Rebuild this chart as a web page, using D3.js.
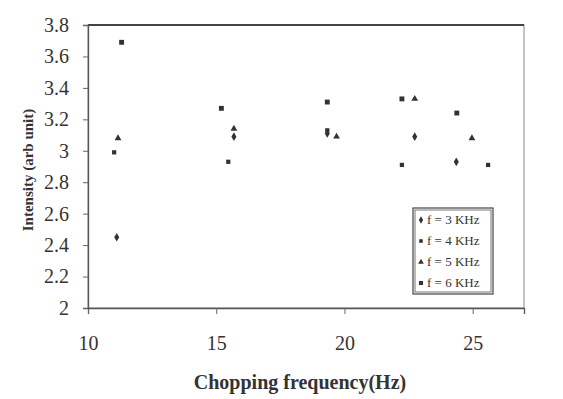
<!DOCTYPE html>
<html>
<head>
<meta charset="utf-8">
<script src="https://cdn.jsdelivr.net/npm/d3@7"></script>
<style>
  body { margin: 0; background: #fff; }
  text { font-family: "Liberation Serif", "DejaVu Serif", serif; fill: #333; }
</style>
</head>
<body>
<div id="chart"></div>
<script>
const seriesNames = ["f = 3 KHz", "f = 4 KHz", "f = 5 KHz", "f = 6 KHz"];
const xTicks = [10, 15, 20, 25];
const yTicks = [2, 2.2, 2.4, 2.6, 2.8, 3, 3.2, 3.4, 3.6, 3.8];

const x3k = [11.12, 15.69, 19.33, 22.74, 24.36];
const y3k = [2.45, 3.09, 3.11, 3.09, 2.93];
const x4k = [11.02, 15.47, 19.33, 22.24, 25.6];
const y4k = [2.99, 2.93, 3.13, 2.91, 2.91];
const x5k = [11.17, 15.69, 19.69, 22.74, 24.97];
const y5k = [3.08, 3.14, 3.09, 3.33, 3.08];
const x6k = [11.31, 15.2, 19.33, 22.24, 24.38];
const y6k = [3.69, 3.27, 3.31, 3.33, 3.24];

const series = [
  { name: seriesNames[0], xs: x3k, ys: y3k, shape: d3.symbolDiamond, size: 22 },
  { name: seriesNames[1], xs: x4k, ys: y4k, shape: d3.symbolSquare, size: 18 },
  { name: seriesNames[2], xs: x5k, ys: y5k, shape: d3.symbolTriangle, size: 20 },
  { name: seriesNames[3], xs: x6k, ys: y6k, shape: d3.symbolSquare, size: 24 }
];

const width = 563, height = 399;
const margin = { top: 25, right: 39, bottom: 91, left: 88 };
const innerW = width - margin.left - margin.right;
const innerH = height - margin.top - margin.bottom;

const svg = d3.select("#chart").append("svg")
  .attr("width", width)
  .attr("height", height);

const g = svg.append("g")
  .attr("transform", `translate(${margin.left},${margin.top})`);

const xScale = d3.scaleLinear().domain([10, 27]).range([0, innerW]);
const yScale = d3.scaleLinear().domain([2, 3.8]).range([innerH, 0]);

// frame
g.append("rect")
  .attr("width", innerW)
  .attr("height", innerH)
  .attr("fill", "none")
  .attr("stroke", "#888")
  .attr("stroke-width", 1);
g.append("line")
  .attr("x1", 0).attr("x2", innerW)
  .attr("y1", 0).attr("y2", 0)
  .attr("stroke", "#444").attr("stroke-width", 1.8);

const xAxis = g.append("g")
  .attr("transform", `translate(0,${innerH})`)
  .call(d3.axisBottom(xScale).tickValues(xTicks).tickSize(6).tickPadding(22).tickFormat(d3.format("d")));
const yAxis = g.append("g")
  .call(d3.axisLeft(yScale).tickValues(yTicks).tickSize(5).tickPadding(14).tickFormat(d => d3.format("")(d)));

[xAxis, yAxis].forEach(a => {
  a.attr("font-family", "Liberation Serif").attr("font-size", 20);
  a.selectAll("path").attr("stroke", "#555").attr("stroke-width", 1.3);
  a.selectAll("line").attr("stroke", "#666");
  a.selectAll("text").attr("fill", "#444");
});

// points
series.forEach(s => {
  g.append("g").selectAll("path")
    .data(s.xs.map((xv, i) => [xv, s.ys[i]]))
    .join("path")
    .attr("transform", d => `translate(${xScale(d[0])},${yScale(d[1])})`)
    .attr("d", d3.symbol().type(s.shape).size(s.size))
    .attr("fill", "#333");
});

// axis titles
svg.append("text")
  .attr("x", 300).attr("y", 389)
  .attr("text-anchor", "middle")
  .attr("font-size", 20)
  .attr("font-weight", "bold")
  .text("Chopping frequency(Hz)");

svg.append("text")
  .attr("transform", "translate(33,170) rotate(-90)")
  .attr("text-anchor", "middle")
  .attr("font-size", 15)
  .attr("font-weight", "bold")
  .text("Intensity (arb unit)");

// legend
const legend = svg.append("g").attr("transform", "translate(413,208)");
legend.append("rect")
  .attr("width", 80).attr("height", 86)
  .attr("fill", "#fff").attr("stroke", "#444").attr("stroke-width", 1.2);
legend.append("rect")
  .attr("x", 2).attr("y", 2)
  .attr("width", 76).attr("height", 82)
  .attr("fill", "none").attr("stroke", "#555").attr("stroke-width", 0.8);

series.forEach((s, i) => {
  const row = legend.append("g").attr("transform", `translate(0,${12 + i * 21})`);
  row.append("path")
    .attr("transform", "translate(8,0)")
    .attr("d", d3.symbol().type(s.shape).size(s.size * 0.7))
    .attr("fill", "#333");
  row.append("text")
    .attr("x", 14).attr("y", 4)
    .attr("font-size", 13)
    .text(s.name);
});
</script>
</body>
</html>
